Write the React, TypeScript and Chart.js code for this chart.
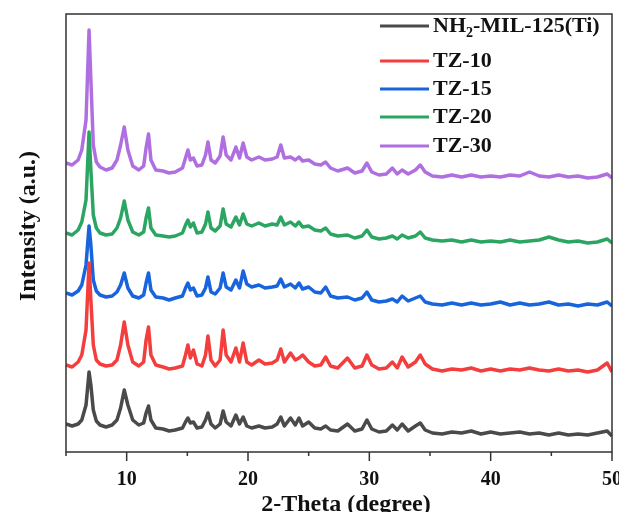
import React, { useEffect, useRef } from "react";
import { Chart, registerables } from "chart.js";

Chart.register(...registerables);

// 2-theta positions (degree)
const thetas = [
  5.0, 5.5, 6.0, 6.3, 6.65, 6.9, 7.05, 7.25, 7.5, 7.8,
  8.3, 8.8, 9.2, 9.5, 9.8, 10.1, 10.5, 11.0, 11.4, 11.6,
  11.8, 12.0, 12.4, 13.0, 13.5, 14.0, 14.6, 14.85, 15.05, 15.25,
  15.5, 15.8, 16.2, 16.5, 16.7, 16.95, 17.3, 17.7, 17.95, 18.2,
  18.6, 19.0, 19.3, 19.6, 19.9, 20.3, 20.9, 21.4, 22.0, 22.4,
  22.7, 23.0, 23.5, 23.9, 24.2, 24.5, 25.0, 25.5, 26.0, 26.4,
  26.8, 27.4, 28.2, 28.8, 29.4, 29.8, 30.2, 30.8, 31.4, 31.9,
  32.3, 32.7, 33.2, 33.8, 34.2, 34.6, 35.2, 36.0, 36.8, 37.6,
  38.4, 39.2, 40.0, 40.8, 41.6, 42.4, 43.2, 44.0, 44.8, 45.6,
  46.4, 47.2, 48.0, 48.8, 49.6, 50.0,
];

// intensities (a.u., stacked with offsets as in the figure)
const nh2Mil125 = [
  28, 26, 28, 32, 47, 80, 67, 42, 31, 27,
  25, 27, 32, 44, 62, 47, 32, 27, 29, 39,
  46, 32, 24, 23, 21, 22, 24, 30, 34, 29,
  30, 24, 25, 32, 39, 28, 24, 28, 41, 30,
  26, 37, 28, 35, 26, 24, 26, 24, 25, 28,
  35, 26, 34, 27, 34, 26, 30, 24, 23, 26,
  22, 21, 28, 21, 23, 32, 23, 20, 21, 27,
  22, 28, 21, 26, 29, 22, 19, 18, 20, 19,
  21, 18, 20, 18, 19, 20, 18, 19, 17, 19,
  17, 18, 17, 19, 21, 16,
];
const tz10 = [
  87, 85, 90, 97, 122, 189, 152, 107, 92, 88,
  86, 87, 92, 107, 130, 107, 90, 86, 90, 112,
  125, 97, 87, 85, 83, 84, 86, 97, 107, 94,
  102, 88, 86, 97, 116, 92, 86, 92, 122, 97,
  90, 104, 90, 109, 90, 87, 92, 88, 89, 92,
  103, 90, 99, 92, 94, 97, 90, 86, 87, 95,
  86, 84, 94, 84, 86, 97, 87, 83, 84, 90,
  84, 95, 85, 90, 97, 88, 83, 81, 83, 82,
  84, 81, 83, 81, 83, 82, 84, 82, 81, 83,
  81, 82, 80, 82, 89, 80,
];
const tz15 = [
  159, 157, 161, 167, 187, 226, 207, 172, 161, 157,
  155, 156, 160, 167, 179, 164, 156, 154, 157, 169,
  179, 162, 155, 154, 152, 154, 156, 164, 169, 162,
  164, 156, 157, 164, 175, 160, 158, 164, 179, 165,
  162, 172, 164, 181, 168, 165, 167, 164, 165, 166,
  173, 165, 168, 164, 169, 163, 165, 160, 159, 165,
  156, 154, 155, 152, 154, 160, 152, 150, 151, 153,
  150, 156, 151, 154, 156, 150, 148, 147, 149, 147,
  149, 147, 148, 150, 147, 149, 147, 148, 150, 147,
  148, 146, 148, 147, 150, 146,
];
const tz20 = [
  219, 217, 222, 230, 252, 320, 282, 237, 224, 219,
  217, 218, 224, 234, 251, 232, 220, 217, 220, 234,
  244, 224, 217, 216, 215, 216, 219, 227, 232, 225,
  229, 219, 220, 228, 240, 224, 221, 226, 243, 228,
  225, 235, 227, 238, 228, 226, 229, 226, 228, 227,
  235, 227, 230, 226, 230, 225, 226, 222, 221, 224,
  218, 216, 217, 214, 216, 222, 215, 213, 214, 216,
  213, 217, 214, 216, 220, 214, 212, 211, 212, 210,
  212, 210, 211, 210, 212, 210, 211, 212, 215, 212,
  210, 211, 209, 210, 213, 209,
];
const tz30 = [
  289, 287, 292, 302, 332, 422, 372, 307, 290, 285,
  282, 284, 292, 307, 325, 302, 286, 282, 286, 304,
  318, 292, 282, 281, 279, 280, 284, 294, 302, 292,
  294, 286, 287, 297, 310, 292, 289, 296, 315, 297,
  292, 305, 294, 309, 295, 292, 295, 292, 293, 295,
  307, 294, 295, 292, 295, 291, 292, 288, 287, 290,
  284, 281, 284, 279, 281, 289, 280, 277, 278, 284,
  278, 282, 278, 282, 287, 280, 276, 275, 277, 275,
  277, 275, 276, 275, 277, 276, 280, 276, 275, 277,
  275, 276, 274, 275, 278, 274,
];

const seriesLabels = ["NH₂-MIL-125(Ti)", "TZ-10", "TZ-15", "TZ-20", "TZ-30"];
const seriesColors = ["#4a4a4a", "#f43d3d", "#1764dc", "#2ba562", "#b06fe0"];
const xTickLabels = [10, 20, 30, 40, 50];
const xTitle = "2-Theta (degree)";
const yTitle = "Intensity (a.u.)";

const FONT = '"Liberation Serif", "Times New Roman", Times, serif';

function drawLegendLabel(ctx: CanvasRenderingContext2D, text: string, x: number, y: number) {
  const parts = text.split("₂");
  ctx.textBaseline = "middle";
  ctx.textAlign = "left";
  let cx = x;
  parts.forEach((p, k) => {
    if (k > 0) {
      ctx.font = `bold 14px ${FONT}`;
      ctx.fillText("2", cx, y + 7);
      cx += ctx.measureText("2").width;
    }
    ctx.font = `bold 22px ${FONT}`;
    ctx.fillText(p, cx, y);
    cx += ctx.measureText(p).width;
  });
}

const decorPlugin = {
  id: "decor",
  afterDraw(chart: any) {
    const { ctx, chartArea: a, scales } = chart;
    const xs = scales.x;
    ctx.save();
    // frame
    ctx.strokeStyle = "#333";
    ctx.lineWidth = 1.5;
    ctx.strokeRect(a.left, a.top, a.right - a.left, a.bottom - a.top);
    // tick marks (major longer)
    xs.ticks.forEach((t: any) => {
      const px = xs.getPixelForValue(t.value);
      const len = xTickLabels.includes(t.value) ? 9 : 4;
      ctx.beginPath();
      ctx.moveTo(px, a.bottom);
      ctx.lineTo(px, a.bottom + len);
      ctx.stroke();
    });
    // axis titles
    ctx.fillStyle = "#111";
    ctx.font = `bold 24px ${FONT}`;
    ctx.textAlign = "center";
    ctx.textBaseline = "middle";
    ctx.fillText(xTitle, (a.left + a.right) / 2 + 7, a.bottom + 53);
    ctx.save();
    ctx.translate(21, (a.top + a.bottom) / 2 - 7);
    ctx.rotate(-Math.PI / 2);
    ctx.fillText(yTitle, 0, 0);
    ctx.restore();
    // legend
    const rows = [18, 53, 81, 109, 138];
    const lx = 372;
    chart.data.datasets.forEach((ds: any, i: number) => {
      const y = rows[i];
      ctx.strokeStyle = ds.borderColor;
      ctx.lineWidth = 3;
      ctx.beginPath();
      ctx.moveTo(lx, y);
      ctx.lineTo(lx + 49, y);
      ctx.stroke();
      ctx.fillStyle = "#111";
      drawLegendLabel(ctx, ds.label, lx + 53, y);
    });
    ctx.restore();
  },
};

export default function App() {
  const ref = useRef<HTMLCanvasElement>(null);
  useEffect(() => {
    const seriesValues = [nh2Mil125, tz10, tz15, tz20, tz30];
    const chart = new Chart(ref.current as HTMLCanvasElement, {
      type: "line",
      data: {
        datasets: seriesValues.map((vals, i) => ({
          label: seriesLabels[i],
          data: thetas.map((t, j) => ({ x: t, y: vals[j] })),
          borderColor: seriesColors[i],
          backgroundColor: seriesColors[i],
          borderWidth: 3.5,
          pointRadius: 0,
          tension: 0,
          borderJoinStyle: "round",
        })),
      },
      options: {
        animation: false,
        responsive: true,
        maintainAspectRatio: false,
        devicePixelRatio: 1,
        layout: { padding: { top: 6, right: 15, left: 0, bottom: 0 } },
        plugins: { legend: { display: false }, tooltip: { enabled: false } },
        scales: {
          x: {
            type: "linear",
            min: 5,
            max: 50,
            afterFit: (s: any) => {
              s.height = 68;
              s.paddingLeft = 0;
              s.paddingRight = 0;
            },
            ticks: {
              stepSize: 5,
              autoSkip: false,
              maxRotation: 0,
              padding: 7,
              color: "#111",
              font: { family: FONT, size: 20, weight: "bold" },
              callback: (v: any) => (xTickLabels.includes(Number(v)) ? String(v) : ""),
            },
            grid: {
              display: true,
              drawOnChartArea: false,
              drawTicks: true,
              tickLength: 9,
              tickColor: "rgba(0,0,0,0)",
            },
            border: { display: false },
          },
          y: {
            min: 0,
            max: 438,
            afterFit: (s: any) => {
              s.width = 58;
            },
            ticks: { display: false },
            grid: { display: false },
            border: { display: false },
          },
        },
      } as any,
      plugins: [decorPlugin],
    });
    return () => chart.destroy();
  }, []);
  return (
    <div style={{ width: "calc(100% + 8px)", height: "512px", marginBottom: "-8px", position: "relative" }}>
      <canvas ref={ref} style={{ display: "block" }} />
    </div>
  );
}
